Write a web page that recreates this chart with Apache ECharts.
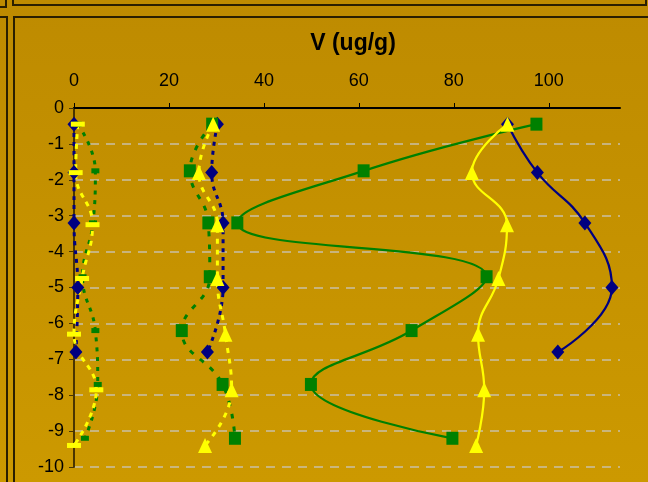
<!DOCTYPE html>
<html>
<head>
<meta charset="utf-8">
<script src="https://cdn.jsdelivr.net/npm/echarts@6/dist/echarts.min.js"></script>
<style>
  html, body { margin: 0; padding: 0; background: #C49100; }
  #chart { width: 648px; height: 482px; }
</style>
</head>
<body>
<div id="chart"></div>
<script>
// Depths (y) of each sampling level, per profile
const depthNavy   = [-0.45, -1.8, -3.2, -5.0, -6.8];
const depthGreen  = [-0.45, -1.75, -3.2, -4.7, -6.2, -7.7, -9.2];
const depthYellow = [-0.45, -1.8, -3.25, -4.75, -6.3, -7.85, -9.4];

// V concentrations (ug/g)
const navyHigh   = [91.3, 97.6, 107.6, 113.3, 101.9];
const greenHigh  = [97.4, 61.0, 34.4, 86.9, 71.1, 49.9, 79.7];
const yellowHigh = [91.3, 83.8, 91.2, 89.4, 85.1, 86.4, 84.7];

const navyMid    = [30.2, 29.0, 31.4, 31.4, 28.1];
const greenMid   = [29.1, 24.4, 28.3, 28.6, 22.7, 31.3, 33.9];
const yellowMid  = [29.3, 26.3, 30.2, 30.2, 31.9, 33.2, 27.6];

const navyLow    = [0.0, 0.0, 0.0, 0.8, 0.4];
const greenLow   = [0.8, 4.5, 4.0, 1.8, 4.5, 5.0, 2.3];
const yellowLow  = [0.8, 0.35, 3.9, 1.7, 0.0, 4.7, 0.0];

// Axis ticks
const xTicks = [0, 20, 40, 60, 80, 100];
const xMax = 115;
const yMin = -10, yMax = 0;

const NAVY = '#000080', GREEN = '#008000', YELLOW = '#FFFF00';
const FONT = "'Liberation Sans', Arial, sans-serif";

function pts(vals, depths) { return vals.map((v, i) => [v, depths[i]]); }

function profile(name, vals, depths, color, symbol, size, dash, width) {
  return {
    name, type: 'line', smooth: 0.45,
    data: pts(vals, depths),
    symbol, symbolSize: size, showSymbol: true,
    itemStyle: { color, borderWidth: 0 },
    lineStyle: { color, width, type: dash ? dash : 'solid' },
    animation: false, silent: true
  };
}

const chart = echarts.init(document.getElementById('chart'));
const frame = '#2A1F00';
chart.setOption({
  backgroundColor: {
    type: 'linear', x: 0, y: 0, x2: 0, y2: 1,
    colorStops: [{ offset: 0, color: '#BE8B00' }, { offset: 1, color: '#CC9900' }]
  },
  title: {
    text: 'V (ug/g)', left: 348, top: 27, textAlign: 'center',
    textStyle: { fontFamily: FONT, fontSize: 23, fontWeight: 'bold', color: '#000' }
  },
  graphic: [
    { type: 'rect', shape: { x: 13, y: -10, width: 633, height: 15 }, style: { fill: 'none', stroke: frame, lineWidth: 2 } },
    { type: 'rect', shape: { x: -10, y: -10, width: 16, height: 17 }, style: { fill: 'none', stroke: frame, lineWidth: 2 } },
    { type: 'rect', shape: { x: -10, y: 17, width: 17, height: 500 }, style: { fill: 'none', stroke: frame, lineWidth: 2 } },
    { type: 'rect', shape: { x: 14, y: 17, width: 700, height: 500 }, style: { fill: 'none', stroke: frame, lineWidth: 2 } }
  ],
  grid: { left: 74, top: 108, right: 28, bottom: 15, containLabel: false },
  xAxis: {
    type: 'value', position: 'top', min: 0, max: xMax, interval: 20,
    axisLine: { show: true, onZero: false, lineStyle: { color: '#000', width: 2 } },
    axisTick: { show: true, length: 5, lineStyle: { color: '#000', width: 1 } },
    axisLabel: {
      margin: 18, fontFamily: FONT, fontSize: 18, color: '#000', showMaxLabel: false,
      formatter: v => xTicks.includes(v) ? String(v) : ''
    },
    splitLine: { show: false }
  },
  yAxis: {
    type: 'value', min: yMin, max: yMax, interval: 1,
    axisLine: { show: true, onZero: false, lineStyle: { color: '#4A3500', width: 2 } },
    axisTick: { show: true, length: 5, lineStyle: { color: '#4A3500', width: 1 } },
    axisLabel: { margin: 10, fontFamily: FONT, fontSize: 18, color: '#000' },
    splitLine: { show: true, lineStyle: { color: '#C9C0A6', width: 1.5, type: [9, 7] } }
  },
  series: [
    profile('navy-low', navyLow, depthNavy, NAVY, 'diamond', [13, 15], [4, 5], 3),
    profile('navy-mid', navyMid, depthNavy, NAVY, 'diamond', [13, 15], [4, 5], 3),
    profile('navy-high', navyHigh, depthNavy, NAVY, 'diamond', [13, 15], null, 2.25),
    profile('green-low', greenLow, depthGreen, GREEN, 'rect', [8, 5], [4, 6], 3),
    profile('green-mid', greenMid, depthGreen, GREEN, 'rect', [12, 13], [5, 8], 3),
    profile('green-high', greenHigh, depthGreen, GREEN, 'rect', [12, 13], null, 2.25),
    profile('yellow-low', yellowLow, depthYellow, YELLOW, 'rect', [14, 5], [5, 5], 3),
    profile('yellow-mid', yellowMid, depthYellow, YELLOW, 'triangle', [14, 15], [5, 6], 3),
    profile('yellow-high', yellowHigh, depthYellow, YELLOW, 'triangle', [14, 15], null, 2.25)
  ]
});
</script>
</body>
</html>
